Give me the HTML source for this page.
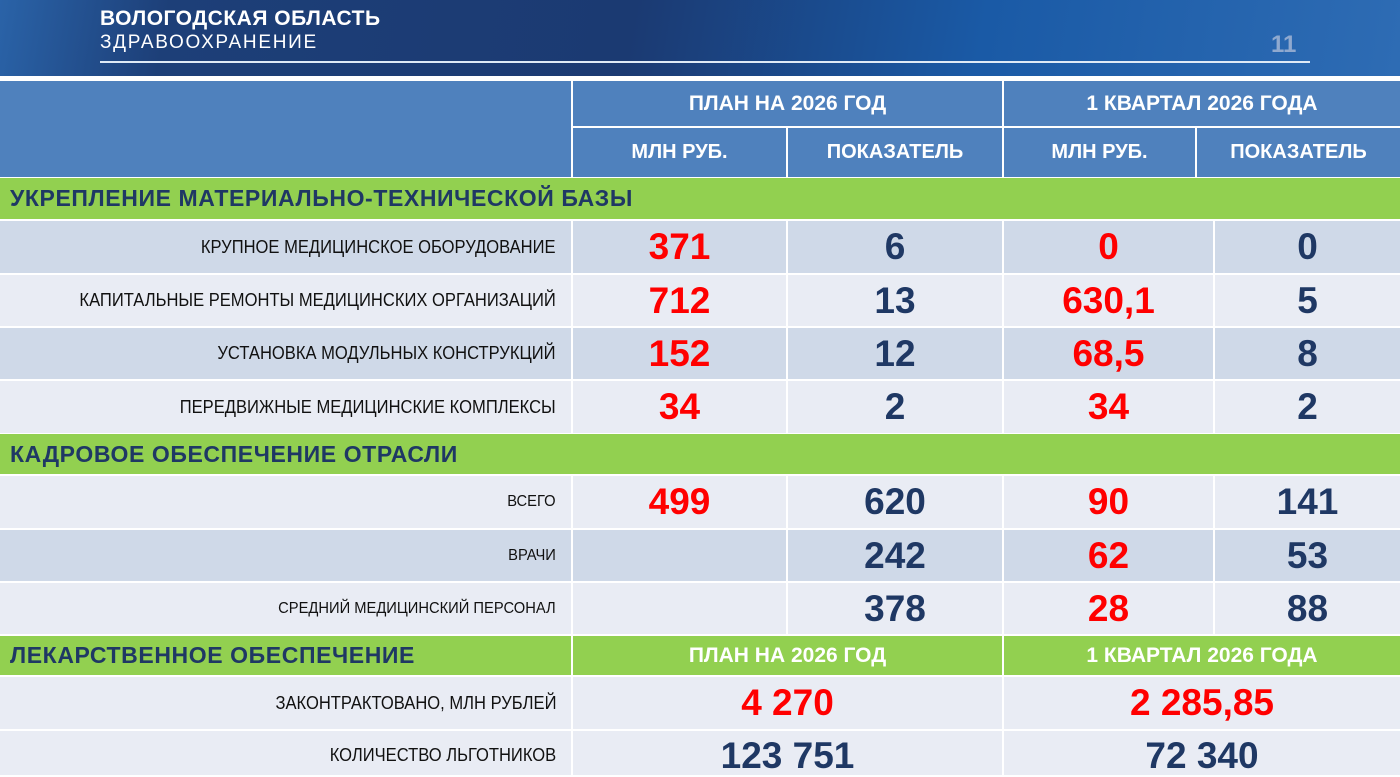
<!DOCTYPE html>
<html><head><meta charset="utf-8"><style>
*{margin:0;padding:0;box-sizing:border-box}
body{width:1400px;height:775px;overflow:hidden;background:#fff;position:relative;font-family:"Liberation Sans",sans-serif}
.a{position:absolute}
.hdr{left:0;top:0;width:1400px;height:76px;background:linear-gradient(100deg,#2a63a8 0%,#1d3f78 12%,#1b3a72 45%,#1a5aa6 70%,#2e6cb4 100%)}
.c{position:absolute;display:flex;align-items:center;justify-content:center;font-weight:bold}
.hb{background:#4f81bd;color:#fff;font-size:21px}
.g{background:#92d050;color:#1f3864;font-size:23px;letter-spacing:0.6px}
.L{background:#e9ecf4}.D{background:#cfd9e8}
.lab{justify-content:flex-end;padding-right:15px;font-weight:normal;font-size:18px;color:#111}
.lab span{display:inline-block;transform:scaleX(0.92);transform-origin:right center;white-space:nowrap}
.r{color:#ff0000;font-size:37px}
.b{color:#1f3864;font-size:37px}
</style></head><body>
<div class="a hdr"></div>
<div class="a" style="left:100px;top:7px;color:#fff;font-weight:bold;font-size:21px;letter-spacing:0.5px">ВОЛОГОДСКАЯ ОБЛАСТЬ</div>
<div class="a" style="left:100px;top:32px;color:#fff;font-size:19px;letter-spacing:1.7px">ЗДРАВООХРАНЕНИЕ</div>
<div class="a" style="left:100px;top:61px;width:1210px;height:2px;background:#dfeaf6"></div>
<div class="a" style="left:1271px;top:31px;color:#8fa9cf;font-weight:bold;font-size:24px">11</div>

<div class="c hb" style="left:0;top:81px;width:571px;height:96px"></div>
<div class="c hb" style="left:573px;top:81px;width:429px;height:45px">ПЛАН НА 2026 ГОД</div>
<div class="c hb" style="left:1004px;top:81px;width:396px;height:45px">1 КВАРТАЛ 2026 ГОДА</div>
<div class="c hb" style="left:573px;top:128px;width:213px;height:49px;font-size:20px">МЛН РУБ.</div>
<div class="c hb" style="left:788px;top:128px;width:214px;height:49px;font-size:20px">ПОКАЗАТЕЛЬ</div>
<div class="c hb" style="left:1004px;top:128px;width:191px;height:49px;font-size:20px">МЛН РУБ.</div>
<div class="c hb" style="left:1197px;top:128px;width:203px;height:49px;font-size:20px">ПОКАЗАТЕЛЬ</div>

<div class="c g" style="left:0;top:178px;width:1400px;height:41px;justify-content:flex-start;padding-left:10px">УКРЕПЛЕНИЕ МАТЕРИАЛЬНО-ТЕХНИЧЕСКОЙ БАЗЫ</div>

<div class="c lab D" style="left:0;top:221px;width:571px;height:52px"><span>КРУПНОЕ МЕДИЦИНСКОЕ ОБОРУДОВАНИЕ</span></div>
<div class="c r D" style="left:573px;top:221px;width:213px;height:52px">371</div>
<div class="c b D" style="left:788px;top:221px;width:214px;height:52px">6</div>
<div class="c r D" style="left:1004px;top:221px;width:209px;height:52px">0</div>
<div class="c b D" style="left:1215px;top:221px;width:185px;height:52px">0</div>

<div class="c lab L" style="left:0;top:275px;width:571px;height:51px"><span>КАПИТАЛЬНЫЕ РЕМОНТЫ МЕДИЦИНСКИХ ОРГАНИЗАЦИЙ</span></div>
<div class="c r L" style="left:573px;top:275px;width:213px;height:51px">712</div>
<div class="c b L" style="left:788px;top:275px;width:214px;height:51px">13</div>
<div class="c r L" style="left:1004px;top:275px;width:209px;height:51px">630,1</div>
<div class="c b L" style="left:1215px;top:275px;width:185px;height:51px">5</div>

<div class="c lab D" style="left:0;top:328px;width:571px;height:51px"><span>УСТАНОВКА МОДУЛЬНЫХ КОНСТРУКЦИЙ</span></div>
<div class="c r D" style="left:573px;top:328px;width:213px;height:51px">152</div>
<div class="c b D" style="left:788px;top:328px;width:214px;height:51px">12</div>
<div class="c r D" style="left:1004px;top:328px;width:209px;height:51px">68,5</div>
<div class="c b D" style="left:1215px;top:328px;width:185px;height:51px">8</div>

<div class="c lab L" style="left:0;top:381px;width:571px;height:52px"><span>ПЕРЕДВИЖНЫЕ МЕДИЦИНСКИЕ КОМПЛЕКСЫ</span></div>
<div class="c r L" style="left:573px;top:381px;width:213px;height:52px">34</div>
<div class="c b L" style="left:788px;top:381px;width:214px;height:52px">2</div>
<div class="c r L" style="left:1004px;top:381px;width:209px;height:52px">34</div>
<div class="c b L" style="left:1215px;top:381px;width:185px;height:52px">2</div>

<div class="c g" style="left:0;top:434px;width:1400px;height:40px;justify-content:flex-start;padding-left:10px">КАДРОВОЕ ОБЕСПЕЧЕНИЕ ОТРАСЛИ</div>

<div class="c lab L" style="left:0;top:476px;width:571px;height:52px;font-size:16px"><span>ВСЕГО</span></div>
<div class="c r L" style="left:573px;top:476px;width:213px;height:52px">499</div>
<div class="c b L" style="left:788px;top:476px;width:214px;height:52px">620</div>
<div class="c r L" style="left:1004px;top:476px;width:209px;height:52px">90</div>
<div class="c b L" style="left:1215px;top:476px;width:185px;height:52px">141</div>

<div class="c lab D" style="left:0;top:530px;width:571px;height:51px;font-size:16px"><span>ВРАЧИ</span></div>
<div class="c r D" style="left:573px;top:530px;width:213px;height:51px"></div>
<div class="c b D" style="left:788px;top:530px;width:214px;height:51px">242</div>
<div class="c r D" style="left:1004px;top:530px;width:209px;height:51px">62</div>
<div class="c b D" style="left:1215px;top:530px;width:185px;height:51px">53</div>

<div class="c lab L" style="left:0;top:583px;width:571px;height:51px;font-size:16px"><span>СРЕДНИЙ МЕДИЦИНСКИЙ ПЕРСОНАЛ</span></div>
<div class="c r L" style="left:573px;top:583px;width:213px;height:51px"></div>
<div class="c b L" style="left:788px;top:583px;width:214px;height:51px">378</div>
<div class="c r L" style="left:1004px;top:583px;width:209px;height:51px">28</div>
<div class="c b L" style="left:1215px;top:583px;width:185px;height:51px">88</div>

<div class="c g" style="left:0;top:636px;width:571px;height:39px;justify-content:flex-start;padding-left:10px">ЛЕКАРСТВЕННОЕ ОБЕСПЕЧЕНИЕ</div>
<div class="c g" style="left:573px;top:636px;width:429px;height:39px;color:#fff;font-size:21px;letter-spacing:0">ПЛАН НА 2026 ГОД</div>
<div class="c g" style="left:1004px;top:636px;width:396px;height:39px;color:#fff;font-size:21px;letter-spacing:0">1 КВАРТАЛ 2026 ГОДА</div>

<div class="c lab L" style="left:0;top:677px;width:571px;height:52px"><span>ЗАКОНТРАКТОВАНО, МЛН РУБЛЕЙ</span></div>
<div class="c r L" style="left:573px;top:677px;width:429px;height:52px">4 270</div>
<div class="c r L" style="left:1004px;top:677px;width:396px;height:52px">2 285,85</div>

<div class="c lab L" style="left:0;top:731px;width:571px;height:44px;padding-top:4px"><span>КОЛИЧЕСТВО ЛЬГОТНИКОВ</span></div>
<div class="c b L" style="left:573px;top:731px;width:429px;height:44px;padding-top:6px">123 751</div>
<div class="c b L" style="left:1004px;top:731px;width:396px;height:44px;padding-top:6px">72 340</div>
</body></html>
